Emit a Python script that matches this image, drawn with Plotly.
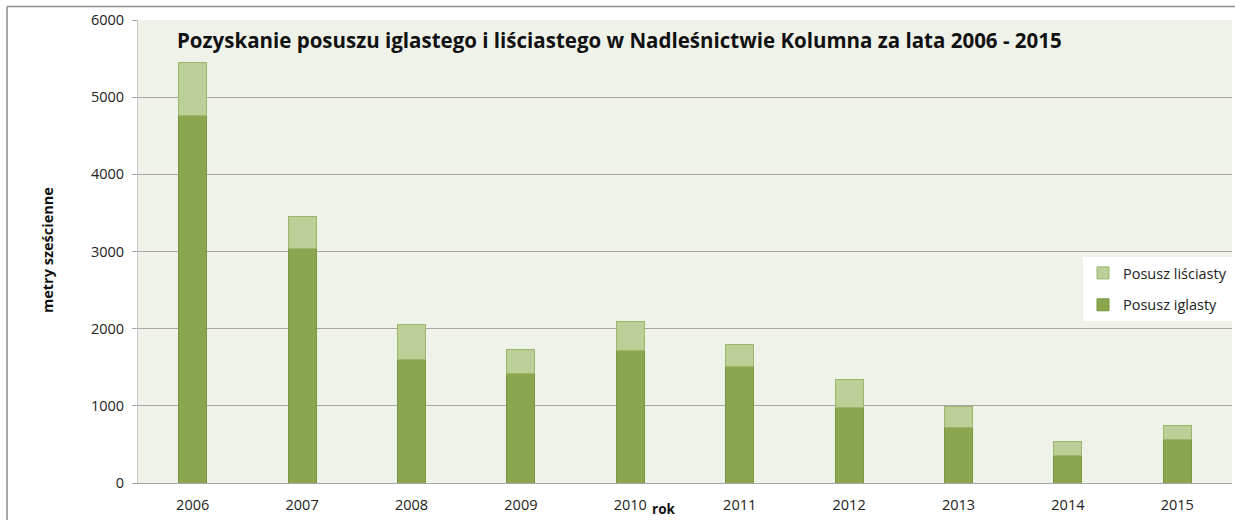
import plotly.graph_objects as go

years = ["2006", "2007", "2008", "2009", "2010", "2011", "2012", "2013", "2014", "2015"]
iglasty = [4760, 3045, 1597, 1424, 1723, 1511, 974, 723, 360, 567]
lisciasty = [690, 415, 460, 312, 365, 290, 368, 268, 177, 182]
y_ticks = [0, 1000, 2000, 3000, 4000, 5000, 6000]

FONT = "Open Sans"
W, H = 1235, 520
ML, MR, MT, MB = 138, 3, 20, 37
PW, PH = W - ML - MR, H - MT - MB

def px_x(x):
    return (x - ML) / PW

def px_y(y):
    return (H - MB - y) / PH

fig = go.Figure()
fig.add_trace(go.Bar(
    x=years, y=iglasty, name="Posusz iglasty", legendgroup="a", legendrank=2,
    marker=dict(color="#8AA64E", line=dict(color="#7A963F", width=1)),
))
fig.add_trace(go.Bar(
    x=years, y=lisciasty, name="Posusz liściasty", legendgroup="b", legendrank=1,
    marker=dict(color="#BBD097", line=dict(color="#9DB56C", width=1)),
))

fig.update_layout(
    width=W, height=H,
    margin=dict(l=ML, r=MR, t=MT, b=MB),
    barmode="stack", bargap=0.744,
    paper_bgcolor="white", plot_bgcolor="#EFF2E9",
    font=dict(family=FONT, size=13, color="#222222"),
    showlegend=True,
    legend=dict(
        x=1.0, xanchor="right", y=px_y(257), yanchor="top",
        bgcolor="white", borderwidth=0,
        traceorder="grouped", tracegroupgap=10,
        font=dict(family=FONT, size=14.5, color="#222222"),
        itemwidth=30,
    ),
    xaxis=dict(
        type="category", showgrid=False, ticks="",
        showline=True, linecolor="#A6A6A6", linewidth=1,
        tickfont=dict(family=FONT, size=14.5, color="#222222"),
        ticklabelstandoff=9,
        fixedrange=True,
    ),
    yaxis=dict(
        range=[0, 6000], tickvals=y_ticks,
        showgrid=True, gridcolor="#A6A6A6", gridwidth=1,
        showline=True, linecolor="#C8C8C8", linewidth=1,
        ticks="outside", ticklen=5, tickcolor="#A6A6A6",
        tickfont=dict(family=FONT, size=14.5, color="#222222"),
        ticklabelstandoff=5,
        zeroline=False,
    ),
    annotations=[
        dict(text="<b>Pozyskanie posuszu iglastego i liściastego w Nadleśnictwie Kolumna za lata 2006 - 2015</b>",
             xref="paper", yref="paper", x=px_x(175), y=px_y(40),
             xanchor="left", yanchor="middle", showarrow=False,
             font=dict(family=FONT, size=20.5, color="#111111")),
        dict(text="<b>metry sześcienne</b>", textangle=-90,
             xref="paper", yref="paper", x=px_x(47), y=px_y(250),
             xanchor="center", yanchor="middle", showarrow=False,
             font=dict(family=FONT, size=14.5, color="#111111")),
        dict(text="<b>rok</b>",
             xref="paper", yref="paper", x=px_x(663), y=px_y(509),
             xanchor="center", yanchor="middle", showarrow=False,
             font=dict(family=FONT, size=13.5, color="#111111")),
    ],
    shapes=[
        dict(type="line", xref="paper", yref="paper",
             x0=px_x(7), x1=px_x(1240), y0=px_y(6.5), y1=px_y(6.5),
             line=dict(color="#8C8C8C", width=1.5)),
        dict(type="line", xref="paper", yref="paper",
             x0=px_x(7), x1=px_x(7), y0=px_y(6.5), y1=px_y(530),
             line=dict(color="#8C8C8C", width=1.5)),
    ],
)

fig.write_html("out.html", config={"displayModeBar": False},
               post_script="document.body.style.margin='0';document.body.style.overflow='hidden';")
